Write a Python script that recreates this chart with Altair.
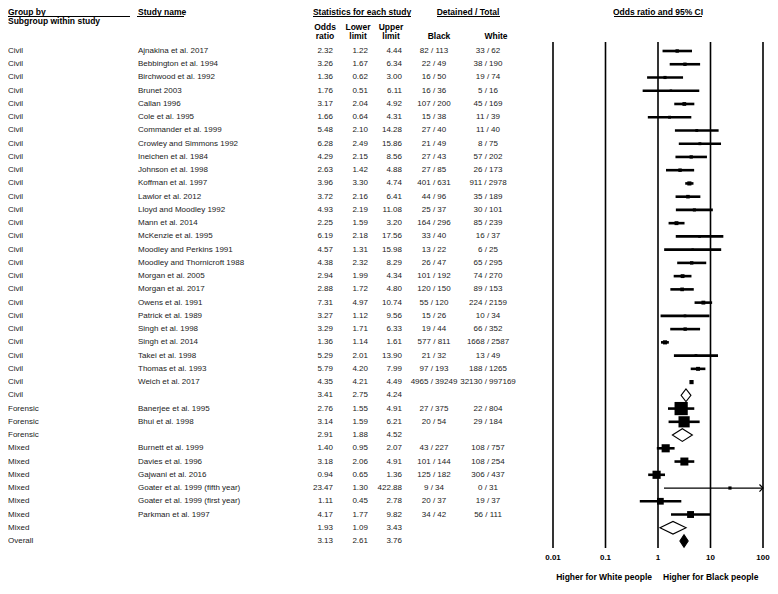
import altair as alt
import pandas as pd
import numpy as np

# ---------------- data ----------------
groups = ["Civil"] * 26 + ["Forensic"] * 2 + ["Mixed"] * 6
studies = [
    "Ajnakina et al. 2017", "Bebbington et al. 1994", "Birchwood et al. 1992", "Brunet 2003",
    "Callan 1996", "Cole et al. 1995", "Commander et al. 1999", "Crowley and Simmons 1992",
    "Ineichen et al. 1984", "Johnson et al. 1998", "Koffman et al. 1997", "Lawlor et al. 2012",
    "Lloyd and Moodley 1992", "Mann et al. 2014", "McKenzie et al. 1995", "Moodley and Perkins 1991",
    "Moodley and Thornicroft 1988", "Morgan et al. 2005", "Morgan et al. 2017", "Owens et al. 1991",
    "Patrick et al. 1989", "Singh et al. 1998", "Singh et al. 2014", "Takei et al. 1998",
    "Thomas et al. 1993", "Weich et al. 2017",
    "Banerjee et al. 1995", "Bhui et al. 1998",
    "Burnett et al. 1999", "Davies et al. 1996", "Gajwani et al. 2016",
    "Goater et al. 1999 (fifth year)", "Goater et al. 1999 (first year)", "Parkman et al. 1997",
]
odds = [2.32, 3.26, 1.36, 1.76, 3.17, 1.66, 5.48, 6.28, 4.29, 2.63, 3.96, 3.72, 4.93, 2.25, 6.19, 4.57,
        4.38, 2.94, 2.88, 7.31, 3.27, 3.29, 1.36, 5.29, 5.79, 4.35,
        2.76, 3.14,
        1.40, 3.18, 0.94, 23.47, 1.11, 4.17]
lower = [1.22, 1.67, 0.62, 0.51, 2.04, 0.64, 2.10, 2.49, 2.15, 1.42, 3.30, 2.16, 2.19, 1.59, 2.18, 1.31,
         2.32, 1.99, 1.72, 4.97, 1.12, 1.71, 1.14, 2.01, 4.20, 4.21,
         1.55, 1.59,
         0.95, 2.06, 0.65, 1.30, 0.45, 1.77]
upper = [4.44, 6.34, 3.00, 6.11, 4.92, 4.31, 14.28, 15.86, 8.56, 4.88, 4.74, 6.41, 11.08, 3.20, 17.56, 15.98,
         8.29, 4.34, 4.80, 10.74, 9.56, 6.33, 1.61, 13.90, 7.99, 4.49,
         4.91, 6.21,
         2.07, 4.91, 1.36, 422.88, 2.78, 9.82]
black_det = [82, 22, 16, 16, 107, 15, 27, 21, 27, 27, 401, 44, 25, 164, 33, 13, 26, 101, 120, 55, 15, 19, 577,
             21, 97, 4965, 27, 20, 43, 101, 125, 9, 20, 34]
black_tot = [113, 49, 50, 36, 200, 38, 40, 49, 43, 85, 631, 96, 37, 296, 40, 22, 47, 192, 150, 120, 26, 44, 811,
             32, 193, 39249, 375, 54, 227, 144, 182, 34, 37, 42]
white_det = [33, 38, 19, 5, 45, 11, 11, 8, 57, 26, 911, 35, 30, 85, 16, 6, 65, 74, 89, 224, 10, 66, 1668,
             13, 188, 32130, 22, 29, 108, 108, 306, 0, 19, 56]
white_tot = [62, 190, 74, 16, 169, 39, 40, 75, 202, 173, 2978, 189, 101, 239, 37, 25, 295, 270, 153, 2159, 34,
             352, 2587, 49, 1265, 997169, 804, 184, 757, 254, 437, 31, 37, 111]

summary_groups = ["Civil", "Forensic", "Mixed", "Overall"]
summary_or = [3.41, 2.91, 1.93, 3.13]
summary_lo = [2.75, 1.88, 1.09, 2.61]
summary_hi = [4.24, 4.52, 3.43, 3.76]

tick_values = [0.01, 0.1, 1, 10, 100]
tick_labels = ["0.01", "0.1", "1", "10", "100"]

# ---------------- derived tables ----------------
study_df = pd.DataFrame({
    "group": groups, "study": studies, "or": odds, "lo": lower, "hi": upper,
    "black": [f"{a} / {b}" for a, b in zip(black_det, black_tot)],
    "white": [f"{a} / {b}" for a, b in zip(white_det, white_tot)],
})

# random-effects (DerSimonian-Laird) relative weights within each subgroup -> marker area
def re_weights(lo, hi, est):
    y = np.log(est)
    v = ((np.log(hi) - np.log(lo)) / 3.92) ** 2
    w = 1 / v
    ybar = np.sum(w * y) / np.sum(w)
    q = np.sum(w * (y - ybar) ** 2)
    c = np.sum(w) - np.sum(w ** 2) / np.sum(w)
    tau2 = max(0.0, (q - (len(y) - 1)) / c)
    ws = 1 / (v + tau2)
    return 100 * ws / ws.sum()

study_df["relw"] = 0.0
for g in ["Civil", "Forensic", "Mixed"]:
    m = study_df["group"] == g
    study_df.loc[m, "relw"] = re_weights(study_df.loc[m, "lo"].values, study_df.loc[m, "hi"].values,
                                         study_df.loc[m, "or"].values)

# row ordering: studies of a group, then its summary; overall last
rows = []
r = 0
study_rows = []
summary_rows = []
for g in ["Civil", "Forensic", "Mixed"]:
    for i in study_df.index[study_df["group"] == g]:
        study_rows.append(r)
        rows.append(dict(group=g, study=studies[i], or_=odds[i], lo=lower[i], hi=upper[i],
                         black=study_df.loc[i, "black"], white=study_df.loc[i, "white"], row=r))
        r += 1
    k = summary_groups.index(g)
    summary_rows.append(r)
    rows.append(dict(group=g, study="", or_=summary_or[k], lo=summary_lo[k], hi=summary_hi[k],
                     black="", white="", row=r))
    r += 1
summary_rows.append(r)
rows.append(dict(group="Overall", study="", or_=summary_or[3], lo=summary_lo[3], hi=summary_hi[3],
                 black="", white="", row=r))
table = pd.DataFrame(rows)

study_df["row"] = study_rows
study_df["hi_plot"] = np.minimum(study_df["hi"], 100)
study_df["clipped"] = study_df["hi"] > 100

# diamonds
dia = []
H = 0.48
for k, g in enumerate(summary_groups):
    rr = summary_rows[k]
    dia.append(dict(grp=g, x=summary_lo[k], y1=rr, y2=rr))
    dia.append(dict(grp=g, x=summary_or[k], y1=rr - H, y2=rr + H))
    dia.append(dict(grp=g, x=summary_hi[k], y1=rr, y2=rr))
dia = pd.DataFrame(dia)
dia["overall"] = dia["grp"] == "Overall"

ticks = pd.DataFrame({"t": tick_values, "lab": tick_labels})

# ---------------- scales ----------------
xs = alt.Scale(type="log", domain=[0.01, 100], range=[545, 755])
ys = alt.Scale(domain=[0, 37], range=[43, 533])
FONT = "Liberation Sans"
TXT = "#222222"

def X(field):
    return alt.X(field, scale=xs, axis=None)

def Y(field):
    return alt.Y(field, scale=ys, axis=None)

# ---------------- forest layers ----------------
grid = alt.Chart(ticks).mark_rule(color="black", strokeWidth=1.6).encode(
    x=X("t:Q"), y=alt.value(34), y2=alt.value(540))
tick_txt = alt.Chart(ticks).mark_text(font=FONT, fontSize=8, fontWeight="bold", color="black",
                                      baseline="middle").encode(
    x=X("t:Q"), y=alt.value(550), text="lab:N")

ci = alt.Chart(study_df).transform_filter("!datum.clipped").mark_rule(
    color="black", strokeWidth=2.6).encode(x=X("lo:Q"), x2="hi_plot:Q", y=Y("row:Q"))
ci_thin = alt.Chart(study_df).transform_filter("datum.clipped").mark_rule(
    color="black", strokeWidth=1.3).encode(x=X("lo:Q"), x2="hi_plot:Q", y=Y("row:Q"))
arrow = alt.Chart(study_df).transform_filter("datum.clipped").mark_point(
    shape="M-1,-1L0,0L-1,1", filled=False, color="black", strokeWidth=1.2, size=50, opacity=1).encode(
    x=X("hi_plot:Q"), y=Y("row:Q"))
squares = alt.Chart(study_df).mark_square(filled=True, color="black", opacity=1).encode(
    x=X("or:Q"), y=Y("row:Q"),
    size=alt.Size("relw:Q", scale=alt.Scale(domain=[0, 100], range=[0, 300]), legend=None))

diamonds = alt.Chart(dia).mark_area(orient="vertical", stroke="black", strokeWidth=1.1,
                                    opacity=1, interpolate="linear").encode(
    x=X("x:Q"), y=Y("y1:Q"), y2="y2:Q", detail="grp:N",
    fill=alt.condition("datum.overall", alt.value("black"), alt.value("white")))

# ---------------- table text layers ----------------
def col(field, xpos, align, fmt=None):
    enc = dict(x=alt.value(xpos), y=Y("row:Q"))
    if fmt:
        enc["text"] = alt.Text(field, format=fmt)
    else:
        enc["text"] = alt.Text(field)
    return alt.Chart(table).mark_text(font=FONT, fontSize=8, color=TXT, align=align,
                                      baseline="middle").encode(**enc)

cols = [
    col("group:N", 0, "left"),
    col("study:N", 130, "left"),
    col("or_:Q", 325, "right", ".2f"),
    col("lo:Q", 360, "right", ".2f"),
    col("hi:Q", 394, "right", ".2f"),
    col("black:N", 426, "center"),
    col("white:N", 480, "center"),
]

one = pd.DataFrame({"a": [0]})

def htxt(text, xpos, ypos, align="center", size=8.5, baseline="alphabetic"):
    return alt.Chart(one).mark_text(font=FONT, fontSize=size, fontWeight="bold", color="black",
                                    align=align, baseline=baseline).encode(
        x=alt.value(xpos), y=alt.value(ypos), text=alt.value(text))

def hline(x1, x2, ypos):
    return alt.Chart(one).mark_rule(color="black", strokeWidth=1).encode(
        x=alt.value(x1), x2=alt.value(x2), y=alt.value(ypos))

header = [
    htxt("Group by", 0, 6.5, "left"), hline(0, 122, 8.5),
    htxt("Subgroup within study", 0, 15.5, "left"),
    htxt("Study name", 130, 6.5, "left"), hline(129, 176, 8.5),
    htxt("Statistics for each study", 354, 6.5), hline(305, 403, 8.5),
    htxt("Detained / Total", 460, 6.5), hline(429, 492, 8.5),
    htxt("Odds ratio and 95% CI", 650, 6.5), hline(606, 694, 8.5),
    htxt("Odds", 317, 21.5), htxt("ratio", 317, 30.5),
    htxt("Lower", 350, 21.5), htxt("limit", 350, 30.5),
    htxt("Upper", 383, 21.5), htxt("limit", 383, 30.5),
    htxt("Black", 431, 30.5), htxt("White", 488, 30.5),
    htxt("Higher for White people", 644, 572, "right"),
    htxt("Higher for Black people", 655, 572, "left"),
]

chart = alt.layer(grid, tick_txt, ci, ci_thin, arrow, squares, diamonds, *cols, *header).properties(
    width=762, height=578, padding=0, autosize="none"
).configure_view(stroke=None)

chart.save("out.html", embed_options={"renderer": "svg", "actions": False})
